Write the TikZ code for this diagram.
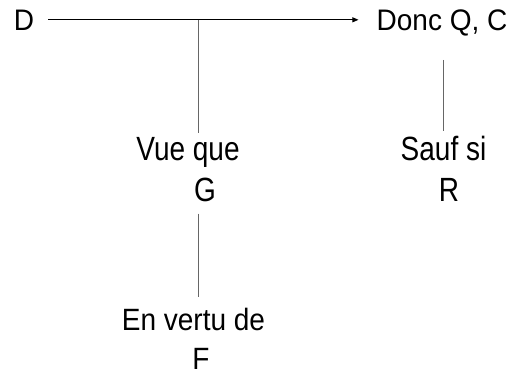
\documentclass[tikz,border=0pt]{standalone}
\usepackage{fontspec}
\setmainfont{Liberation Sans}
\usetikzlibrary{arrows.meta}
\newcommand\tallbox[2][1.2]{\scalebox{1}[#1]{#2}}

\begin{document}
\begin{tikzpicture}[x=1pt, y=-1pt,
		lbl/.style={font=\fontsize{28}{30}\selectfont, inner sep=0pt, anchor=base},
		stem/.style={line width=0.7pt, color=black!60}]
			%%%%% START %%%%%
			
			\useasboundingbox (0,0) rectangle (511,373);
			
			\node[lbl] (d) at (24,30) {\tallbox[1.06]{D}};
			\node[lbl] (c) at (442,30) {\tallbox[1.06]{Donc Q, C}};
			
			\node[lbl] (w) at (188,160) {\tallbox{Vue que}};
			\node[lbl] (g) at (205,201) {\tallbox{G}};
			
			\node[lbl] (q) at (443.5,160) {\tallbox{Sauf si}};
			\node[lbl] (r) at (449,201) {\tallbox{R}};
			
			\node[lbl] (b) at (193.5,330) {\tallbox[1.1]{En vertu de}};
			\node[lbl] (f) at (201,369) {\tallbox[1.1]{F}};
			
			\coordinate (t) at (198,0);
			
			\draw[line width=0.75pt, -{Triangle[length=6pt, width=5pt]}, shorten <=14pt, shorten >=18pt] (d.east) -- (d.east -| c.west);
			
			\draw[stem, shorten >=4pt] (t |- d.east) -- (t |- w.north);
			\draw[stem, shorten <=12pt, shorten >=10pt] (t |- g.south) -- (t |- b.north);
			\draw[stem, shorten <=24pt, shorten >=4pt] (q.north |- c.south) -- (q.north);
			
			%%%%% END %%%%%
\end{tikzpicture}
\end{document}
